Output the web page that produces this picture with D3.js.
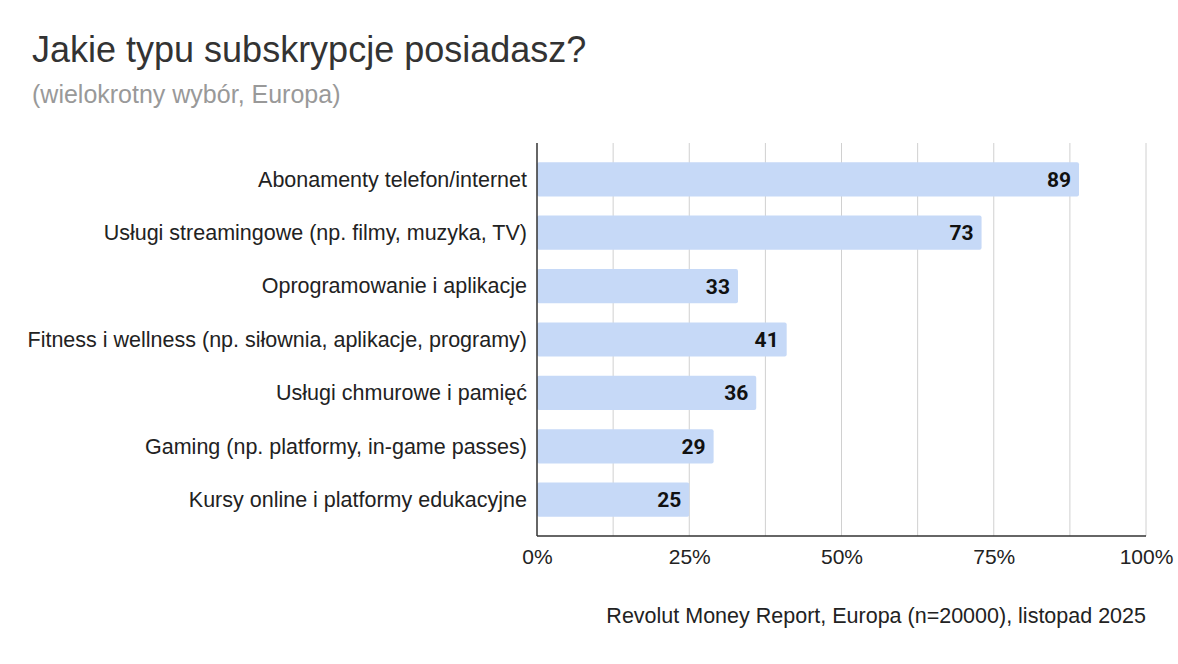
<!DOCTYPE html>
<html lang="pl">
  <head>
    <meta charset="UTF-8" />
    <title>Jakie typu subskrypcje posiadasz?</title>
    <style>
      body { margin: 0; background: #fff; }
    </style>
  </head>
  <body>
    <svg id="svg" width="1178" height="664"></svg>
    <script src="https://d3js.org/d3.v7.min.js"></script>
    <script>
      // data
      const categories = [
        "Abonamenty telefon/internet",
        "Usługi streamingowe (np. filmy, muzyka, TV)",
        "Oprogramowanie i aplikacje",
        "Fitness i wellness (np. siłownia, aplikacje, programy)",
        "Usługi chmurowe i pamięć",
        "Gaming (np. platformy, in-game passes)",
        "Kursy online i platformy edukacyjne",
      ];
      const values = [89, 73, 33, 41, 36, 29, 25];
      const tickValues = [0, 25, 50, 75, 100];
      const gridValues = [12.5, 25, 37.5, 50, 62.5, 75, 87.5, 100];

      const svg = d3.select("#svg");
      const font = "'Liberation Sans', Arial, sans-serif";
      const margin = { top: 143, right: 32, bottom: 128, left: 537 };
      const width = 1178 - margin.left - margin.right;
      const height = 664 - margin.top - margin.bottom;

      // title + subtitle
      svg.append("text")
        .attr("x", 32).attr("y", 62)
        .attr("font-family", font).attr("font-size", 36)
        .attr("fill", "#333")
        .text("Jakie typu subskrypcje posiadasz?");
      svg.append("text")
        .attr("x", 32).attr("y", 103)
        .attr("font-family", font).attr("font-size", 25)
        .attr("fill", "#999")
        .text("(wielokrotny wybór, Europa)");

      const chart = svg.append("g")
        .attr("transform", `translate(${margin.left}, ${margin.top})`);

      const x = d3.scaleLinear().domain([0, 100]).range([0, width]);
      const y = d3.scaleBand().domain(categories).range([0, height]).padding(0.36);

      // gridlines
      chart.append("g")
        .selectAll("line")
        .data(gridValues)
        .join("line")
        .attr("x1", (d) => x(d)).attr("x2", (d) => x(d))
        .attr("y1", 0).attr("y2", height)
        .attr("stroke", "#d0d0d0").attr("stroke-width", 1);

      // bars
      const rows = categories.map((c, i) => ({ cat: c, val: values[i] }));
      chart.append("g")
        .selectAll("rect")
        .data(rows)
        .join("rect")
        .attr("x", 0)
        .attr("y", (d) => y(d.cat))
        .attr("width", (d) => x(d.val))
        .attr("height", y.bandwidth())
        .attr("rx", 2)
        .attr("fill", "#c6d9f7");

      // value labels
      chart.append("g")
        .selectAll("text")
        .data(rows)
        .join("text")
        .attr("x", (d) => x(d.val) - 8)
        .attr("y", (d) => y(d.cat) + y.bandwidth() / 2)
        .attr("dy", "0.36em")
        .attr("text-anchor", "end")
        .attr("font-family", "Roboto, sans-serif")
        .attr("font-weight", "bold")
        .attr("font-size", 21)
        .attr("fill", "#111")
        .text((d) => d.val);

      // category labels
      const yAxis = d3.axisLeft(y).tickSize(0).tickPadding(10);
      chart.append("g")
        .call(yAxis)
        .call((g) => g.select(".domain").remove())
        .selectAll("text")
        .attr("font-family", font)
        .attr("font-size", 21.5)
        .attr("dy", "0.34em")
        .attr("fill", "#222");

      // x axis
      const xAxis = d3.axisBottom(x)
        .tickValues(tickValues)
        .tickSize(0)
        .tickPadding(13)
        .tickFormat((d) => d + "%");
      chart.append("g")
        .attr("transform", `translate(0, ${height})`)
        .call(xAxis)
        .call((g) => g.select(".domain").remove())
        .selectAll("text")
        .attr("font-family", font)
        .attr("font-size", 21)
        .attr("fill", "#222");

      // axis lines
      chart.append("line")
        .attr("x1", 0).attr("x2", width)
        .attr("y1", height).attr("y2", height)
        .attr("stroke", "#333").attr("stroke-width", 1.5);
      chart.append("line")
        .attr("x1", 0).attr("x2", 0)
        .attr("y1", 0).attr("y2", height)
        .attr("stroke", "#333").attr("stroke-width", 1.5);

      // footer
      svg.append("text")
        .attr("x", 1146).attr("y", 623)
        .attr("text-anchor", "end")
        .attr("font-family", font).attr("font-size", 21.5)
        .attr("fill", "#222")
        .text("Revolut Money Report, Europa (n=20000), listopad 2025");
    </script>
  </body>
</html>
